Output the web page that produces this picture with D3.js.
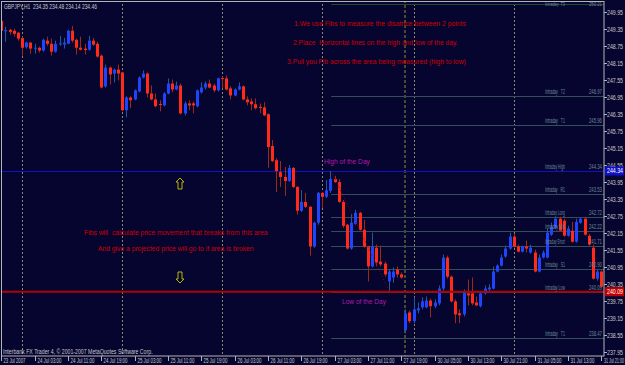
<!DOCTYPE html>
<html><head><meta charset="utf-8">
<script src="https://cdn.jsdelivr.net/npm/d3@7/dist/d3.min.js"></script>
<style>
html,body{margin:0;padding:0;background:#050530;overflow:hidden}
svg{display:block}
text{font-family:"Liberation Sans",Arial,sans-serif;white-space:pre}
</style></head><body>
<svg id="c" width="625" height="365"></svg>
<script>
// ---------- DATA ----------
const symbolTitle = "GBPJPY,H1  234.35 234.48 234.14 234.46";
const copyright = "Interbank FX Trader 4, \u00a9 2001-2007 MetaQuotes Software Corp.";
// bar index of first bar (0 = 24 Jul 2007 00:00, hourly)
const firstBar = -5;
const opens = [
249.63,249.26,249.31,249.28,249.21,
249.02,248.70,248.86,248.65,248.68,248.58,248.93,248.82,248.54,248.82,
248.79,248.82,249.28,248.96,248.68,248.65,248.61,248.93,248.82,248.40,
247.32,247.98,247.77,247.91,247.81,246.48,246.93,246.86,247.14,247.63,
247.77,247.07,246.86,246.70,246.65,247.07,247.42,247.21,247.35,246.37,
246.72,246.72,246.62,247.11,247.28,247.42,247.35,247.18,247.61,247.60,
247.25,247.00,247.21,247.32,246.86,246.79,246.69,246.60,246.58,246.34,
245.22,244.72,244.30,244.13,243.99,244.45,243.78,242.94,243.25,243.08,
241.68,242.52,243.57,243.43,243.64,244.06,243.95,243.25,242.45,241.61,
242.48,242.87,242.27,241.68,240.98,241.64,241.15,241.08,240.45,240.59,
240.87,240.70,238.73,239.36,239.05,239.43,239.54,239.54,239.78,239.58,
239.68,240.20,241.29,240.62,239.75,239.33,239.29,240.03,240.03,239.71,
239.58,240.03,240.17,240.20,240.80,241.01,241.33,241.61,242.03,241.68,
241.50,241.68,241.47,241.47,240.80,241.29,241.29,242.10,242.34,242.66,
242.59,242.06,242.24,241.85,242.52,242.66,242.06,241.64,240.55,240.80];
const highs = [
249.67,249.42,249.35,249.35,249.24,
249.07,248.89,248.89,248.82,248.72,249.00,249.07,249.00,248.93,249.10,
249.03,249.31,249.45,249.00,249.07,248.82,249.10,249.03,248.89,248.44,
248.09,248.02,247.95,248.09,247.84,246.97,246.97,247.21,247.67,247.88,
247.81,247.35,247.07,246.83,247.11,247.60,247.56,247.49,247.42,246.79,
246.83,246.79,247.21,247.46,247.49,247.56,247.42,247.63,247.67,247.70,
247.32,247.25,247.46,247.35,246.97,246.90,246.90,246.72,246.76,246.37,
245.43,244.79,244.69,244.48,244.55,244.48,243.81,243.67,243.57,243.11,
242.55,243.60,243.60,244.02,244.34,244.17,244.06,243.32,242.48,242.83,
242.97,242.90,242.62,241.71,242.17,241.75,241.71,241.15,240.87,240.94,
240.98,240.77,239.47,239.43,239.89,239.71,239.89,239.92,239.85,239.82,
240.31,241.40,241.36,240.66,239.82,239.47,240.17,240.52,240.59,239.92,
240.10,240.31,240.35,240.98,241.05,241.40,241.71,242.17,242.13,241.75,
241.71,241.89,241.75,241.57,241.40,241.54,242.31,242.52,242.73,242.73,
242.66,242.41,242.55,242.66,242.69,242.73,242.13,241.75,240.87,240.84];
const lows = [
249.24,248.89,249.14,249.07,248.93,
248.40,248.65,248.47,248.47,248.51,248.54,248.75,248.40,248.51,248.75,
248.65,248.82,248.86,248.44,248.58,248.44,248.58,248.75,248.33,247.25,
247.28,247.39,247.46,247.53,246.44,246.23,246.55,246.83,247.11,247.60,
246.93,246.83,246.58,246.44,246.62,247.04,247.11,247.18,246.34,246.30,
246.48,246.37,246.58,247.07,247.21,247.25,247.11,247.14,247.25,247.18,
246.86,246.97,247.18,246.83,246.65,246.48,246.51,246.37,246.27,244.45,
244.65,243.60,243.78,243.46,243.95,243.74,242.80,242.90,243.04,241.36,
241.64,242.45,243.04,243.39,243.57,243.92,243.22,242.34,241.57,241.57,
242.45,242.24,241.64,240.45,240.94,240.98,240.98,240.62,240.09,240.41,
240.59,240.55,238.62,238.98,238.98,239.33,239.47,239.51,239.19,239.51,
239.61,240.13,240.55,239.71,238.98,238.98,239.22,239.61,239.61,239.58,
239.54,239.99,240.10,240.17,240.77,240.98,241.29,241.57,241.64,241.47,
241.47,241.47,241.43,240.77,240.77,241.26,241.26,242.06,242.31,242.20,
242.03,242.03,241.82,241.82,242.48,242.06,241.71,240.52,240.48,240.24];
const closes = [
249.28,249.30,249.24,249.17,249.00,
248.68,248.86,248.65,248.68,248.58,248.96,248.82,248.54,248.82,248.83,
248.86,249.28,248.93,248.68,248.61,248.60,248.93,248.79,248.37,247.28,
247.98,247.74,247.91,247.77,246.48,246.93,246.83,247.18,247.63,247.77,
247.07,246.86,246.62,246.67,247.07,247.42,247.21,247.35,246.37,246.72,
246.65,246.65,247.18,247.28,247.42,247.28,247.18,247.60,247.58,247.21,
247.00,247.21,247.32,246.86,246.76,246.69,246.55,246.56,246.30,245.18,
244.69,244.34,244.13,243.99,244.45,243.78,242.94,243.25,243.08,241.68,
242.52,243.57,243.43,243.66,244.06,243.95,243.25,242.41,241.61,242.52,
242.87,242.27,241.68,240.98,241.68,241.12,241.05,240.70,240.80,240.80,
240.70,240.59,239.33,239.05,239.47,239.51,239.75,239.78,239.58,239.71,
240.20,241.29,240.62,239.75,239.29,239.26,240.06,239.96,239.68,239.61,
240.03,240.20,240.24,240.80,241.01,241.29,241.61,242.03,241.68,241.50,
241.68,241.61,241.64,240.80,241.29,241.47,242.17,242.38,242.66,242.24,
242.06,242.31,241.85,242.55,242.66,242.10,241.75,240.55,240.80,240.27];

const timeTickBars = [-5,3,11,19,27,35,43,51,59,67,75,83,91,99,107,115,123,131,139];
const timeTickLabels = ["23 Jul 2007","24 Jul 03:00","24 Jul 11:00","24 Jul 19:00","25 Jul 03:00","25 Jul 11:00","25 Jul 19:00","26 Jul 03:00","26 Jul 11:00","26 Jul 19:00","27 Jul 03:00","27 Jul 11:00","27 Jul 19:00","30 Jul 05:00","30 Jul 13:00","30 Jul 21:00","31 Jul 05:00","31 Jul 13:00","31 Jul 21:00"];
const priceTicks = [249.95,249.35,248.75,248.15,247.55,246.95,246.35,245.75,245.15,244.55,243.95,243.35,242.75,242.15,241.55,240.95,240.35,239.75,239.15,238.55,237.95];
const daySeparatorBars = [0,24,48,72,94,118];
const sundaySeparatorBar = 92;

const fibNames = ["Intraday  T3","Intraday   T2","Intraday   T1","Intraday High","Intraday   R1","Intraday Long","Intraday Mid","Intraday Short","Intraday   S1","Intraday Low","Intraday   T1"];
const fibValues = [250.21,246.97,245.96,244.34,243.53,242.72,242.22,241.71,240.90,240.09,238.47];
const fibStartBar = 74.2, fibEndBar = 88.2;
const dayHigh = 244.34, dayLow = 240.09;

const notesTop = ["1.We use Fibs to measure the disatnce between 2 points","2.Place  Horizontal lines on the high and low of the day.","3.Pull you Fib across the area being measured (high to low)"];
const notesMid = ["Fibs will  calculate price movement that breaks from this area","And give a projected price will go to if area is broken"];

// ---------- DRAW ----------
const svg = d3.select("#c");
const bg = "#050530";
const PR = 604, PB = 356;
const x = d3.scaleLinear().domain([-5.28, 139.68]).range([0, PR]);
const y = d3.scaleLinear().domain([237.826, 250.361]).range([PB, 0]);

// text squeezed horizontally to a target width (keeps real text)
function fitText(parent, txt, x0, y0, w, fs, fill, anchor){
  const t = parent.append("text").attr("font-size",fs).attr("fill",fill).text(txt);
  const nat = t.node().getComputedTextLength() || w;
  const s = Math.min(1.15, w/nat);
  const start = anchor==="end" ? x0 - nat*s : x0;
  t.attr("transform",`translate(${start},${y0}) scale(${s},1)`);
  return t;
}

svg.append("rect").attr("width",625).attr("height",365).attr("fill",bg);
svg.append("defs").append("clipPath").attr("id","clip")
  .append("rect").attr("x",1.5).attr("y",1.5).attr("width",PR-1.5).attr("height",PB-1.5);
const g = svg.append("g").attr("clip-path","url(#clip)");

// day separators
g.selectAll(".sep").data(daySeparatorBars).enter().append("line")
  .attr("x1",d=>Math.round(x(d))+0.5).attr("x2",d=>Math.round(x(d))+0.5)
  .attr("y1",0).attr("y2",PB).attr("stroke","#8a8a66").attr("stroke-dasharray","2,2").attr("stroke-width",1);
g.append("line").attr("x1",Math.round(x(sundaySeparatorBar))).attr("x2",Math.round(x(sundaySeparatorBar)))
  .attr("y1",0).attr("y2",PB).attr("stroke","#4a4a30").attr("stroke-dasharray","3,2").attr("stroke-width",2);

// fib lines
const fx0 = x(fibStartBar);
fibValues.forEach((v,k)=>{
  const yy = Math.round(y(v))+0.5;
  g.append("line").attr("x1",fx0).attr("x2",PR).attr("y1",yy).attr("y2",yy)
    .attr("stroke", k===0 ? "#24482a" : "#2f5058").attr("stroke-width",1);
});

// horizontal line: high of day
g.append("line").attr("x1",0).attr("x2",PR).attr("y1",Math.round(y(dayHigh))+0.5).attr("y2",Math.round(y(dayHigh))+0.5)
  .attr("stroke","#1010c8").attr("stroke-width",1);

// candles
const idx = d3.range(opens.length);
const bullBody="#1e44ff", bearBody="#ff2a1a", bullWick="#1c5c9a", bearWick="#a02810";
g.selectAll(".wick").data(idx).enter().append("line")
  .attr("x1",i=>Math.round(x(i+firstBar))+0.5).attr("x2",i=>Math.round(x(i+firstBar))+0.5)
  .attr("y1",i=>y(highs[i])).attr("y2",i=>y(lows[i]))
  .attr("stroke",i=>closes[i]>=opens[i]?bullWick:bearWick).attr("stroke-width",1);
g.selectAll(".body").data(idx).enter().append("rect")
  .attr("x",i=>Math.round(x(i+firstBar))-1).attr("width",3)
  .attr("y",i=>y(Math.max(opens[i],closes[i])))
  .attr("height",i=>Math.max(1,Math.abs(y(opens[i])-y(closes[i]))))
  .attr("fill",i=>closes[i]>=opens[i]?bullBody:bearBody);

// horizontal line: low of day (over candles)
g.append("line").attr("x1",0).attr("x2",PR).attr("y1",y(dayLow)).attr("y2",y(dayLow))
  .attr("stroke","#b00000").attr("stroke-width",2);

// fib diagonal
g.append("line").attr("x1",x(fibStartBar)).attr("y1",y(dayHigh)).attr("x2",x(fibEndBar)).attr("y2",y(dayLow))
  .attr("stroke","#8b0000").attr("stroke-dasharray","1,2").attr("stroke-width",1);

// fib labels
fibValues.forEach((v,k)=>{
  const top = k===0;
  const yy = top ? 6 : y(v)-2;
  const fs = top ? 5 : 6.5;
  fitText(svg, fibNames[k], 545, yy, 20, fs, "#70889a");
  fitText(svg, v.toFixed(2), 602, yy, 13, fs, "#70889a", "end");
});

// annotations
const red="#d00000";
const topPos=[[294,26,172],[293,45,165],[287,64,179]];
notesTop.forEach((t,k)=>fitText(svg, t, topPos[k][0], topPos[k][1], topPos[k][2], 8, red));
const midPos=[[84,235,184],[98,251,156]];
notesMid.forEach((t,k)=>fitText(svg, t, midPos[k][0], midPos[k][1], midPos[k][2], 8, red));
fitText(svg, "High of the Day", 324, 164, 46, 8, "#b01aa8");
fitText(svg, "Low of the Day", 342, 304, 44, 8, "#b01aa8");

// arrows
svg.append("path").attr("d","M180,178 L184,182 L182,182 L182,189 L178,189 L178,182 L176,182 Z")
  .attr("fill","none").attr("stroke","#b8b800").attr("stroke-width",1);
svg.append("path").attr("d","M180,283 L184,279 L182,279 L182,272 L178,272 L178,279 L176,279 Z")
  .attr("fill","none").attr("stroke","#b8b800").attr("stroke-width",1);

// title / copyright
fitText(svg, symbolTitle, 4, 9, 93, 7, "#c8c8c8");
fitText(svg, copyright, 3, 354, 150, 7, "#c8c8c8");

// frame
svg.append("rect").attr("x",1.5).attr("y",1.5).attr("width",PR-1.5).attr("height",PB-1.5)
  .attr("fill","none").attr("stroke","#b4b4b4").attr("stroke-width",1);

// price axis
const pa = svg.append("g");
priceTicks.forEach(p=>{
  const yy = Math.round(y(p))+0.5;
  pa.append("line").attr("x1",PR).attr("x2",PR+3).attr("y1",yy).attr("y2",yy).attr("stroke","#b4b4b4");
  fitText(pa, p.toFixed(2), 623, yy+2.5, 16, 6.5, "#c8c8c8", "end");
});
[[dayHigh,"#1010c8"],[dayLow,"#c00000"]].forEach(([p,c])=>{
  const yy = y(p);
  pa.append("rect").attr("x",605).attr("y",yy-4.5).attr("width",19).attr("height",9).attr("fill",c);
  fitText(pa, p.toFixed(2), 623, yy+2.5, 16, 6.5, "#ffffff", "end");
});

// time axis
const ta = svg.append("g");
timeTickBars.forEach((b,k)=>{
  const xx = Math.max(1.5, Math.round(x(b))+0.5);
  ta.append("line").attr("x1",xx).attr("x2",xx).attr("y1",PB).attr("y2",PB+5).attr("stroke","#b4b4b4");
  const last = k===timeTickBars.length-1;
  if (last) fitText(ta, timeTickLabels[k], 624, 363, 20, 6.5, "#c8c8c8", "end");
  else fitText(ta, timeTickLabels[k], xx+2, 363, k===0?22:24, 6.5, "#c8c8c8");
});
</script>
</body></html>
